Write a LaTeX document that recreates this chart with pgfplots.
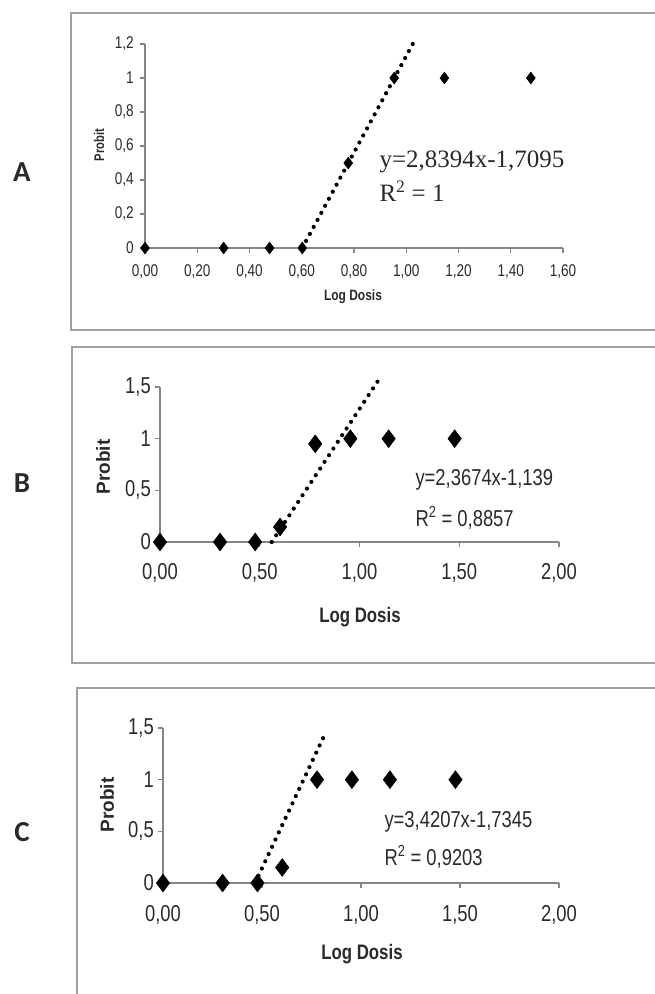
\documentclass[border=0pt]{standalone}
\usepackage{fontspec}
\setmainfont{Liberation Sans}
\newfontfamily\narrow{Liberation Sans}[FakeStretch=0.8]
\newfontfamily\serifeq{Liberation Serif}
\newfontfamily\letterfont{Carlito}
\usepackage{pgfplots}
\pgfplotsset{compat=1.18}
\definecolor{axgray}{HTML}{858585}
\definecolor{boxgray}{HTML}{A0A0A0}
\definecolor{txt}{HTML}{2A2A2A}

\pgfplotsset{
  probit/.style={
    scale only axis, clip=false,
    axis lines*=left,
    axis line style={axgray, line width=1.8pt},
    tick style={axgray, line width=1.3pt},
    tick align=outside,
    major tick length=5pt,
    xmin=0, ymin=0,
    anchor=south west,
    tick label style={inner sep=0pt, text=txt},
  },
  pts/.style={only marks, mark=diamond*, mark options={black, fill=black}},
  fitline/.style={black, line width=4.2pt, line cap=round, dash pattern=on 0pt off 8pt},
}

\begin{document}
\begin{tikzpicture}
\path[use as bounding box] (0pt,0pt) rectangle (655pt,-994pt);

% frames
\draw[boxgray, line width=2.5pt] (71pt,-13pt) rectangle (657pt,-330pt);
\draw[boxgray, line width=2.5pt] (72pt,-347pt) rectangle (657pt,-663pt);
\draw[boxgray, line width=2.5pt] (77pt,-688pt) rectangle (657pt,-1010pt);

% panel letters
\node[font=\letterfont\bfseries\fontsize{29}{29}\selectfont, text=txt] at (22pt,-172pt) {A};
\node[font=\letterfont\bfseries\fontsize{29}{29}\selectfont, text=txt] at (22pt,-483pt) {B};
\node[font=\letterfont\bfseries\fontsize{29}{29}\selectfont, text=txt] at (22pt,-832pt) {C};

% ---------- A ----------
\begin{axis}[probit, at={(145pt,-248pt)}, width=418pt, height=204pt,
  xmax=1.6, ymax=1.2,
  xtick={0,0.2,0.4,0.6,0.8,1,1.2,1.4,1.6},
  xticklabels={{0,00},{0,20},{0,40},{0,60},{0,80},{1,00},{1,20},{1,40},{1,60}},
  ytick={0,0.2,0.4,0.6,0.8,1,1.2},
  yticklabels={{0},{0,2},{0,4},{0,6},{0,8},{1},{1,2}},
  tick label style={font=\narrow\fontsize{17}{17}\selectfont},
  xticklabel shift=11pt, yticklabel shift=6pt]
\addplot[fitline] coordinates {(0.602,0) (1.034,1.226)};
\addplot[pts, mark size=6pt] coordinates {
  (0,0) (0.301,0) (0.477,0) (0.602,0) (0.778,0.5) (0.954,1) (1.146,1) (1.477,1)};
\end{axis}
\node[font=\narrow\bfseries\fontsize{15}{15}\selectfont, text=txt] at (353pt,-297pt) {Log Dosis};
\node[font=\narrow\bfseries\fontsize{14}{14}\selectfont, text=txt, rotate=90] at (99pt,-145pt) {Probit};
\node[font=\serifeq\fontsize{25}{25}\selectfont, text=txt, anchor=west] at (376pt,-162pt) {y=2,8394x-1,7095};
\node[font=\serifeq\fontsize{25}{25}\selectfont, text=txt, anchor=west] at (376pt,-191pt) {R\textsuperscript{2} = 1};

% ---------- B ----------
\begin{axis}[probit, at={(160pt,-542pt)}, width=399pt, height=155pt,
  xmax=2, ymax=1.5,
  xtick={0,0.5,1,1.5,2},
  xticklabels={{0,00},{0,50},{1,00},{1,50},{2,00}},
  ytick={0,0.5,1,1.5},
  yticklabels={{0},{0,5},{1},{1,5}},
  tick label style={font=\narrow\fontsize{23}{23}\selectfont},
  xticklabel shift=16pt, yticklabel shift=4pt]
\addplot[fitline] coordinates {(0.56,0) (1.11,1.61)};
\addplot[pts, mark size=9pt] coordinates {
  (0,0) (0.301,0) (0.477,0) (0.602,0.145) (0.778,0.95) (0.954,1) (1.146,1) (1.477,1)};
\end{axis}
\node[font=\narrow\bfseries\fontsize{21}{21}\selectfont, text=txt] at (360pt,-617pt) {Log Dosis};
\node[font=\bfseries\fontsize{19}{19}\selectfont, text=txt, rotate=90] at (103pt,-467pt) {Probit};
\node[font=\narrow\fontsize{23}{23}\selectfont, text=txt, anchor=west] at (412pt,-480pt) {y=2,3674x-1,139};
\node[font=\narrow\fontsize{23}{23}\selectfont, text=txt, anchor=west] at (412pt,-518pt) {R\textsuperscript{2} = 0,8857};

% ---------- C ----------
\begin{axis}[probit, at={(163pt,-883pt)}, width=396pt, height=155pt,
  xmax=2, ymax=1.5,
  xtick={0,0.5,1,1.5,2},
  xticklabels={{0,00},{0,50},{1,00},{1,50},{2,00}},
  ytick={0,0.5,1,1.5},
  yticklabels={{0},{0,5},{1},{1,5}},
  tick label style={font=\narrow\fontsize{23}{23}\selectfont},
  xticklabel shift=17pt, yticklabel shift=4pt]
\addplot[fitline] coordinates {(0.465,0) (0.82,1.45)};
\addplot[pts, mark size=9pt] coordinates {
  (0,0) (0.301,0) (0.477,0) (0.602,0.15) (0.778,1) (0.954,1) (1.146,1) (1.477,1)};
\end{axis}
\node[font=\narrow\bfseries\fontsize{21}{21}\selectfont, text=txt] at (362pt,-954pt) {Log Dosis};
\node[font=\bfseries\fontsize{19}{19}\selectfont, text=txt, rotate=90] at (107pt,-805pt) {Probit};
\node[font=\narrow\fontsize{23}{23}\selectfont, text=txt, anchor=west] at (381pt,-822pt) {y=3,4207x-1,7345};
\node[font=\narrow\fontsize{23}{23}\selectfont, text=txt, anchor=west] at (381pt,-857pt) {R\textsuperscript{2} = 0,9203};
\end{tikzpicture}
\end{document}
